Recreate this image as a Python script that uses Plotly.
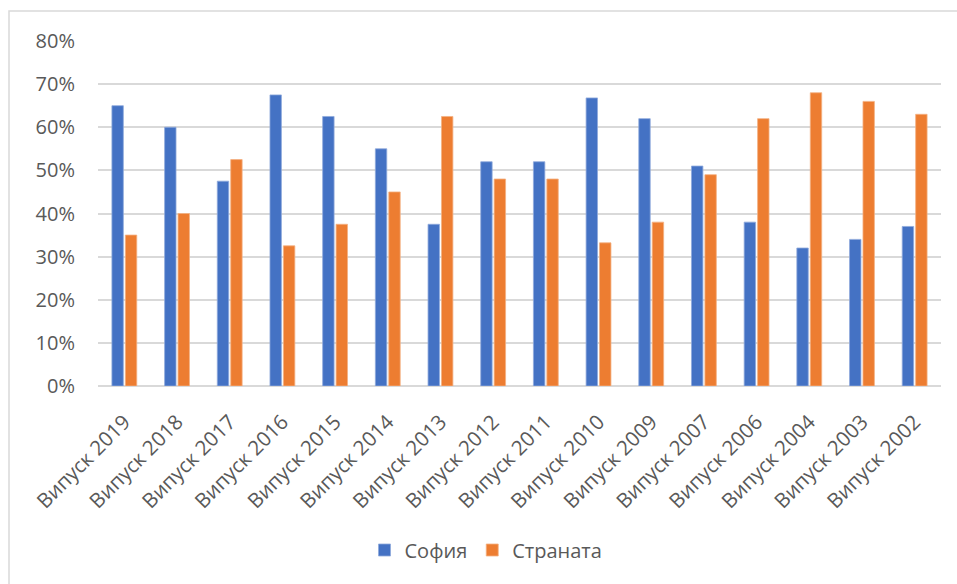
import plotly.graph_objects as go

categories = ["Випуск 2019", "Випуск 2018", "Випуск 2017", "Випуск 2016", "Випуск 2015",
              "Випуск 2014", "Випуск 2013", "Випуск 2012", "Випуск 2011", "Випуск 2010",
              "Випуск 2009", "Випуск 2007", "Випуск 2006", "Випуск 2004", "Випуск 2003",
              "Випуск 2002"]
sofia = [0.65, 0.60, 0.475, 0.675, 0.625, 0.55, 0.375, 0.52, 0.52, 0.668,
         0.62, 0.51, 0.38, 0.32, 0.34, 0.37]
country = [0.35, 0.40, 0.525, 0.325, 0.375, 0.45, 0.625, 0.48, 0.48, 0.332,
           0.38, 0.49, 0.62, 0.68, 0.66, 0.63]

FONT = "Open Sans"
TXT = "#595959"

fig = go.Figure()
fig.add_trace(go.Bar(x=categories, y=sofia, name="София",
                     marker=dict(color="#4472C4", line=dict(color="#8FAADC", width=0.8))))
fig.add_trace(go.Bar(x=categories, y=country, name="Страната",
                     marker=dict(color="#ED7D31", line=dict(color="#F4B183", width=0.8))))

L, R, T, B = 98, 16, 41, 198
W, H = 957, 584
pw, ph = W - L - R, H - T - B

fig.update_layout(
    width=W, height=H,
    margin=dict(l=L, r=R, t=T, b=B, pad=0, autoexpand=False),
    paper_bgcolor="white", plot_bgcolor="white",
    barmode="group", bargap=0.49, bargroupgap=0.15,
    font=dict(family=FONT, size=20, color=TXT),
    showlegend=True,
    legend=dict(orientation="h", x=(486 - L) / pw, xanchor="center",
                y=(H - B - 550) / ph, yanchor="middle",
                font=dict(family=FONT, size=20, color=TXT),
                itemwidth=30, tracegroupgap=0),
    xaxis=dict(tickangle=-45, showgrid=False, showline=False, ticks="",
               automargin=False, ticklabelstandoff=19,
               tickfont=dict(family=FONT, size=20.5, color=TXT)),
    yaxis=dict(range=[0, 0.8], dtick=0.1, tickformat=".0%", showgrid=True,
               gridcolor="#D9D9D9", gridwidth=1.5, zeroline=True,
               zerolinecolor="#D9D9D9", zerolinewidth=1.5, showline=False,
               ticks="", ticklabelstandoff=22, automargin=False,
               tickfont=dict(family=FONT, size=20, color=TXT)),
    shapes=[dict(type="rect", xref="paper", yref="paper",
                 x0=(9 - L) / pw, x1=(W + 10 - L) / pw,
                 y0=(H - B - (H + 10)) / ph, y1=1 + (T - 11) / ph,
                 line=dict(color="#D9D9D9", width=1.5), fillcolor="rgba(0,0,0,0)",
                 layer="below")],
)

fig.write_html("out.html", config={"displayModeBar": False},
               post_script="document.body.style.margin='0';document.body.style.overflow='hidden';")
